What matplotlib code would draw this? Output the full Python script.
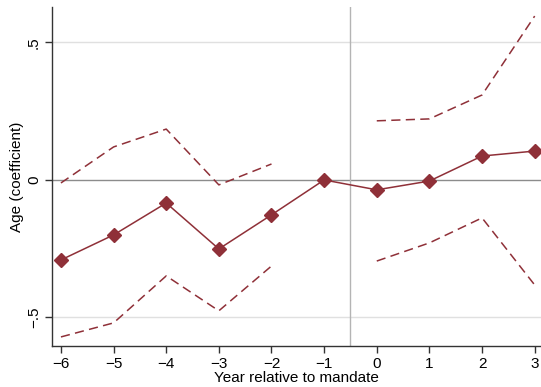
import numpy as np
import matplotlib
matplotlib.use("Agg")
import matplotlib.pyplot as plt

plt.rcParams['font.family'] = ['Liberation Sans', 'DejaVu Sans']

years = [-6, -5, -4, -3, -2, -1, 0, 1, 2, 3]
coef = [-0.291, -0.200, -0.084, -0.251, -0.127, 0.0, -0.036, -0.004, 0.087, 0.105]
upper = [-0.011, 0.120, 0.185, -0.018, 0.058, np.nan, 0.215, 0.222, 0.309, 0.596]
lower = [-0.571, -0.520, -0.349, -0.476, -0.313, np.nan, -0.295, -0.229, -0.138, -0.382]

xticks = [-6, -5, -4, -3, -2, -1, 0, 1, 2, 3]
xticklabels = ['\u22126', '\u22125', '\u22124', '\u22123', '\u22122', '\u22121', '0', '1', '2', '3']
yticks = [-0.5, 0, 0.5]
yticklabels = ['\u2212.5', '0', '.5']

color = '#8f3038'

fig = plt.figure(figsize=(5.41, 3.87), dpi=100)
ax = fig.add_axes([52/541, 1 - 346/387, 1 - 52/541, (346 - 7)/387])

ax.axhline(0.5, color='#e0e0e0', lw=1.0, zorder=0)
ax.axhline(-0.5, color='#e0e0e0', lw=1.0, zorder=0)
ax.axhline(0, color='#8c8c8c', lw=1.0, zorder=1)
ax.axvline(-0.5, color='#b4b4b4', lw=1.0, zorder=1)

ax.plot(years, upper, color=color, lw=1.1, ls=(0, (6, 3.5)), zorder=2)
ax.plot(years, lower, color=color, lw=1.1, ls=(0, (6, 3.5)), zorder=2)
ax.plot(years, coef, color=color, lw=1.1, marker='D', markersize=7,
        markerfacecolor=color, markeredgecolor=color, zorder=3)

ax.set_xlim(-6.17, 3.12)
ax.set_ylim(-0.604, 0.629)
ax.set_xticks(xticks)
ax.set_xticklabels(xticklabels, fontsize=11)
ax.set_yticks(yticks)
ax.set_yticklabels(yticklabels, fontsize=11, rotation=90, va='center')

for s in ['top', 'right']:
    ax.spines[s].set_visible(False)
for s in ['left', 'bottom']:
    ax.spines[s].set_color('#333333')
    ax.spines[s].set_linewidth(1.0)
ax.tick_params(length=5, width=1.0, color='#333333', pad=3)

ax.set_xlabel('Year relative to mandate', fontsize=11, labelpad=0)
ax.set_ylabel('Age (coefficient)', fontsize=11, labelpad=2)

fig.savefig('out.png', dpi=100)
